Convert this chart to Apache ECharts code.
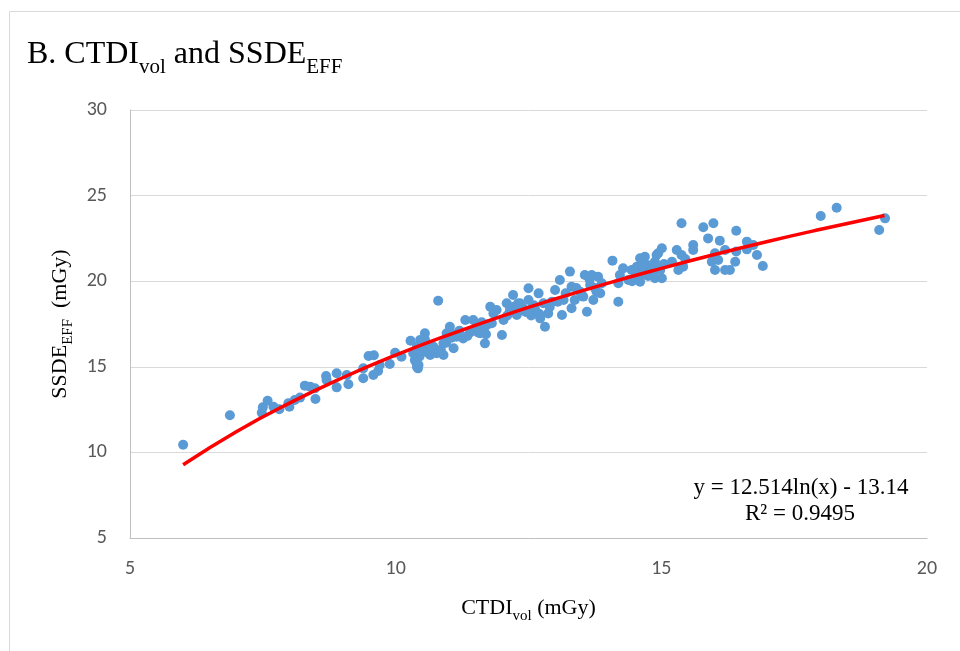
<!DOCTYPE html>
<html><head><meta charset="utf-8">
<script src="https://cdn.jsdelivr.net/npm/echarts@6/dist/echarts.min.js"></script>
<style>html,body{margin:0;padding:0;background:#fff}#c{width:960px;height:651px}</style>
</head><body><div id="c"></div>
<script>
// CTDIvol (mGy) values
var ctdi = [6.0,6.88,7.5,7.59,7.48,7.7,7.81,7.98,8.0,8.1,8.2,8.29,8.39,8.48,8.49,8.69,8.7,8.89,8.89,9.08,9.11,
9.39,9.39,9.49,9.59,9.58,9.67,9.7,9.89,9.99,10.11,10.28,10.4,10.36,10.4,10.46,10.55,10.58,10.65,10.71,10.77,10.8,
10.9,10.9,10.96,11.02,11.09,11.15,11.31,11.27,11.46,11.49,11.53,11.59,11.68,11.68,11.78,11.81,11.84,11.9,12.0,12.03,
12.09,12.15,12.21,12.28,12.34,12.4,12.5,12.5,12.53,12.62,12.69,12.72,12.78,12.81,12.87,12.94,13.0,13.09,13.13,13.16,
13.28,13.31,13.31,13.37,13.47,13.53,13.56,13.6,13.66,13.69,13.72,13.78,13.81,13.88,14.08,14.19,14.19,14.22,14.28,
14.38,14.44,14.54,14.6,14.6,14.69,14.73,14.82,14.88,14.94,14.79,14.88,14.91,15.01,15.01,14.98,15.2,15.29,15.32,
15.38,15.38,15.41,15.6,15.6,15.79,15.88,15.95,15.98,16.01,16.01,16.07,16.1,16.2,16.2,16.29,16.39,16.41,16.41,16.61,
16.61,16.73,16.8,16.91,18.0,18.3,19.1,19.21,10.33,10.43,10.42,
14.65,14.75,14.7,14.85,14.55,14.45,13.4,13.5,13.75,13.65,13.85,12.2,12.3,12.45,12.6,12.7,12.1,
11.2,11.4,11.6,11.7,11.75,11.35,10.5,10.6,10.7,10.85,10.55,10.95,
10.38,10.45,10.52,10.62,10.68,11.05,11.12,11.55,11.62,12.35,12.55,12.9,13.05,13.2,14.5,14.62,14.78,14.9,15.05,15.45];
// SSDE_EFF (mGy) values
var ssde = [10.45,12.17,12.63,13.02,12.32,12.67,12.52,12.87,12.67,13.06,13.2,13.9,13.84,13.74,13.12,14.46,14.23,14.62,13.8,14.52,13.98,
14.33,14.91,15.63,15.67,14.52,14.75,15.1,15.16,15.82,15.59,16.52,15.0,15.4,16.17,16.57,16.96,15.88,15.69,16.17,15.79,18.86,
15.69,16.37,16.96,17.34,16.08,16.76,17.73,16.65,17.73,17.15,17.44,16.96,16.37,17.34,18.51,17.54,18.12,18.32,16.86,17.73,
18.71,18.32,19.19,18.03,18.71,18.42,19.59,18.9,18.32,18.42,19.29,17.83,18.71,17.34,18.12,18.8,19.49,20.07,18.03,18.9,
20.56,19.68,18.42,18.9,19.39,19.1,20.36,18.22,19.78,20.36,18.9,19.39,20.26,19.88,21.2,18.8,19.88,20.36,20.75,
20.07,20.65,20.85,21.34,19.97,21.43,20.75,20.95,20.17,21.63,20.65,21.14,21.53,21.92,20.17,20.65,21.14,21.82,20.65,
23.38,21.53,20.85,22.11,21.82,23.15,22.5,21.14,23.38,20.65,21.63,21.24,22.37,21.82,20.65,20.65,21.14,22.95,21.73,22.31,
21.86,22.11,21.53,20.89,23.81,24.29,22.99,23.67,15.79,15.1,14.91,
20.4,20.3,21.0,20.5,20.1,20.0,19.6,19.2,19.6,20.1,19.3,18.5,18.7,18.2,18.6,18.1,18.0,
17.1,17.0,17.2,16.9,17.5,16.8,16.0,16.3,15.9,16.0,16.6,16.4,
15.3,15.6,16.2,15.8,16.1,16.7,16.9,17.0,17.6,18.3,18.0,18.5,18.8,19.3,20.6,20.9,20.4,20.8,21.0,21.3];
// Logarithmic trendline
var trendX = [6,7,8,9,10,11,12,13,14,15,16,17,18,19.2];
var trendY = [9.28,11.21,12.88,14.36,15.68,16.87,17.96,18.96,19.89,20.75,21.56,22.32,23.03,23.84];
var xTicks = [5,10,15,20];
var yTicks = [5,10,15,20,25,30];

var pts = ctdi.map(function(v,i){return [v, ssde[i]];});
var trend = trendX.map(function(v,i){return [v, trendY[i]];});

var serif = '"Liberation Serif","Times New Roman",serif';
var sans = 'Carlito, Lato, "Open Sans", sans-serif';
var chart = echarts.init(document.getElementById('c'));
chart.setOption({
  animation:false,
  title:{
    text:'{a|B. CTDI}{b|vol}{a| and SSDE}{b|EFF}',
    left:22, top:30,
    textStyle:{fontWeight:'normal',rich:{
      a:{fontFamily:serif,fontSize:32,fontWeight:'normal',color:'#000',lineHeight:36,verticalAlign:'bottom'},
      b:{fontFamily:serif,fontSize:21,fontWeight:'normal',color:'#000',lineHeight:36,verticalAlign:'bottom',padding:[0,0,-7,0]}
    }}
  },
  graphic:[
    {type:'rect',shape:{x:9.5,y:11.5,width:1000,height:700},style:{fill:'none',stroke:'#D9D9D9',lineWidth:1},silent:true,z:-1},
    {type:'text',x:801,y:488,style:{text:'y = 12.514ln(x) - 13.14',font:'23px '+serif,fill:'#000',textAlign:'center',textVerticalAlign:'middle'}},
    {type:'text',x:800,y:514,style:{text:'R² = 0.9495',font:'23px '+serif,fill:'#000',textAlign:'center',textVerticalAlign:'middle'}}
  ],
  grid:{left:130,right:33,top:110,bottom:113},
  xAxis:{
    type:'value',min:5,max:20,interval:5,
    axisLine:{show:true,lineStyle:{color:'#BFBFBF',width:1}},
    axisTick:{show:false},splitLine:{show:false},
    axisLabel:{color:'#595959',fontSize:20,fontFamily:sans,margin:21},
    name:'{a|CTDI}{b|vol}{a| (mGy)}',nameLocation:'middle',nameGap:55,
    nameTextStyle:{rich:{
      a:{fontFamily:serif,fontSize:22,color:'#000',lineHeight:26,verticalAlign:'bottom'},
      b:{fontFamily:serif,fontSize:15,color:'#000',lineHeight:26,verticalAlign:'bottom',padding:[0,0,-5,0]}
    }}
  },
  yAxis:{
    type:'value',min:5,max:30,interval:5,
    axisLine:{show:true,lineStyle:{color:'#BFBFBF',width:1}},
    axisTick:{show:false},
    splitLine:{show:true,lineStyle:{color:'#D9D9D9',width:1}},
    axisLabel:{color:'#595959',fontSize:20,fontFamily:sans,margin:23},
    name:'{a|SSDE}{b|EFF}{a|  (mGy)}',nameLocation:'middle',nameGap:56,nameRotate:90,
    nameTextStyle:{rich:{
      a:{fontFamily:serif,fontSize:22,color:'#000',lineHeight:26,verticalAlign:'bottom'},
      b:{fontFamily:serif,fontSize:15,color:'#000',lineHeight:26,verticalAlign:'bottom',padding:[0,0,-5,0]}
    }}
  },
  series:[
    {type:'scatter',data:pts,symbol:'circle',symbolSize:10,itemStyle:{color:'#5B9BD5',opacity:1},z:2},
    {type:'line',data:trend,smooth:true,symbol:'none',lineStyle:{color:'#FF0000',width:3.5},z:3}
  ]
});
</script></body></html>
